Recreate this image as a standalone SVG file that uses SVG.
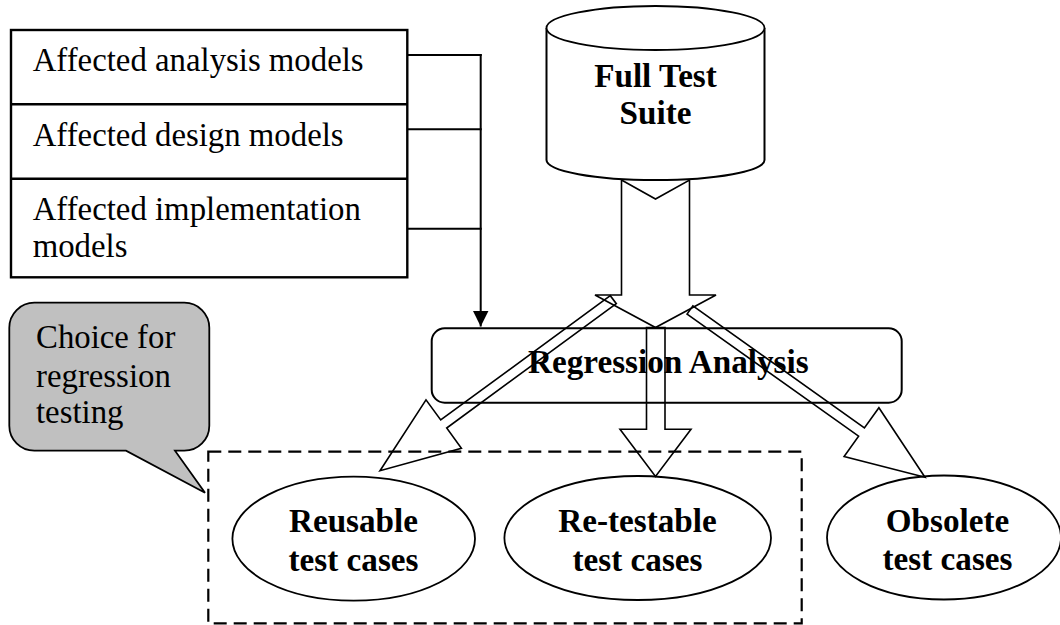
<svg xmlns="http://www.w3.org/2000/svg" width="1060" height="625" viewBox="0 0 1060 625">
<style>
.txt{font-family:"Liberation Serif","Times New Roman",serif;font-size:32.8px;fill:#000}
.b{font-weight:bold;font-size:33.2px}
.mid{text-anchor:middle}
.shape{fill:#fff;stroke:#000;stroke-width:2}
.thin{fill:none;stroke:#000;stroke-width:1.6;stroke-linejoin:miter}
.conn{fill:none;stroke:#000;stroke-width:2}
</style>
<defs>
<marker id="ah" markerUnits="userSpaceOnUse" markerWidth="16" markerHeight="16" refX="16" refY="8" orient="auto">
<path d="M0,0 L16,8 L0,16 Z" fill="#000"/>
</marker>
</defs>
<rect width="1060" height="625" fill="#fff"/>

<g id="models">
<rect x="11" y="30" width="396.3" height="247.3" fill="#fff" stroke="#000" stroke-width="2.4"/>
<line x1="11" y1="104.3" x2="407.3" y2="104.3" stroke="#000" stroke-width="2.4"/>
<line x1="11" y1="178.7" x2="407.3" y2="178.7" stroke="#000" stroke-width="2.4"/>
<text class="txt" x="32.7" y="71">Affected analysis models</text>
<text class="txt" x="32.7" y="145.7">Affected design models</text>
<text class="txt" x="32.7" y="220">Affected implementation</text>
<text class="txt" x="32.7" y="256.7">models</text>
</g>

<g id="full-test-suite">
<path class="shape" d="M546.5,28 L546.5,160 A109,20 0 0 0 764.5,160 L764.5,28" stroke-width="1.8"/>
<ellipse cx="655.5" cy="28" rx="109" ry="22" fill="#fff" stroke="#000" stroke-width="1.8"/>
<text class="txt b mid" x="655.5" y="87.3">Full Test</text>
<text class="txt b mid" x="655.5" y="124">Suite</text>
</g>

<g id="regression-analysis">
<rect x="431.7" y="328.3" width="470" height="74.4" rx="13" ry="13" fill="#fff" stroke="#000" stroke-width="2"/>
</g>

<g id="callout">
<path d="M34.3,302.7 H184.3 A25,25 0 0 1 209.3,327.7 V425.7 A25,25 0 0 1 184.3,450.7 H175 L205,492.7 L126,450.7 H34.3 A25,25 0 0 1 9.3,425.7 V327.7 A25,25 0 0 1 34.3,302.7 Z" fill="#c0c0c0" stroke="#000" stroke-width="1.8"/>
<text class="txt" x="36" y="348.3">Choice for</text>
<text class="txt" x="36" y="387.3">regression</text>
<text class="txt" x="36" y="423.3">testing</text>
</g>

<g id="selection-box">
<rect x="208.3" y="451.7" width="593.4" height="171.6" fill="none" stroke="#000" stroke-width="2.2" stroke-dasharray="13 7"/>
</g>

<g id="reusable">
<ellipse cx="353.7" cy="538.7" rx="121.3" ry="62" fill="#fff" stroke="#000" stroke-width="1.8"/>
<text class="txt b mid" x="353.5" y="532.3">Reusable</text>
<text class="txt b mid" x="353.5" y="570.7">test cases</text>
</g>

<g id="retestable">
<ellipse cx="637.7" cy="538" rx="133.3" ry="62" fill="#fff" stroke="#000" stroke-width="1.8"/>
<text class="txt b mid" x="637.5" y="532">Re-testable</text>
<text class="txt b mid" x="637.5" y="570.5">test cases</text>
</g>

<g id="obsolete">
<ellipse cx="944" cy="537.5" rx="117" ry="62" fill="#fff" stroke="#000" stroke-width="1.8"/>
<text class="txt b mid" x="947.5" y="531.7">Obsolete</text>
<text class="txt b mid" x="947.5" y="570">test cases</text>
</g>

<g id="connectors">
<line class="conn" x1="407.3" y1="55" x2="481.7" y2="55"/>
<line class="conn" x1="407.3" y1="129.3" x2="481.7" y2="129.3"/>
<line class="conn" x1="407.3" y1="228.7" x2="481.7" y2="228.7"/>
<line class="conn" x1="480.7" y1="54" x2="480.7" y2="326.5" marker-end="url(#ah)"/>
<polygon class="thin" points="621.5,180 655.5,199 689.5,180 689.5,295 716,295 655.5,327.5 595,295 621.5,295"/>
<polygon class="thin" points="646.5,327.5 646.5,429.3 620,429.3 655.5,476.5 691,429.3 665,429.3 665,327.5"/>
<polygon class="thin" points="616.3,303.7 446.7,428 461.4,448.2 380,470.7 426,399.8 440.7,420 610.3,295.7"/>
<polygon class="thin" points="687.1,314.1 858.6,436.2 844.1,456.5 925,477.3 878.9,407.7 864.4,428 692.9,305.9"/>
</g>

<g id="regression-label">
<text class="txt b" x="528" y="373.3">Regression Analysis</text>
</g>
</svg>
